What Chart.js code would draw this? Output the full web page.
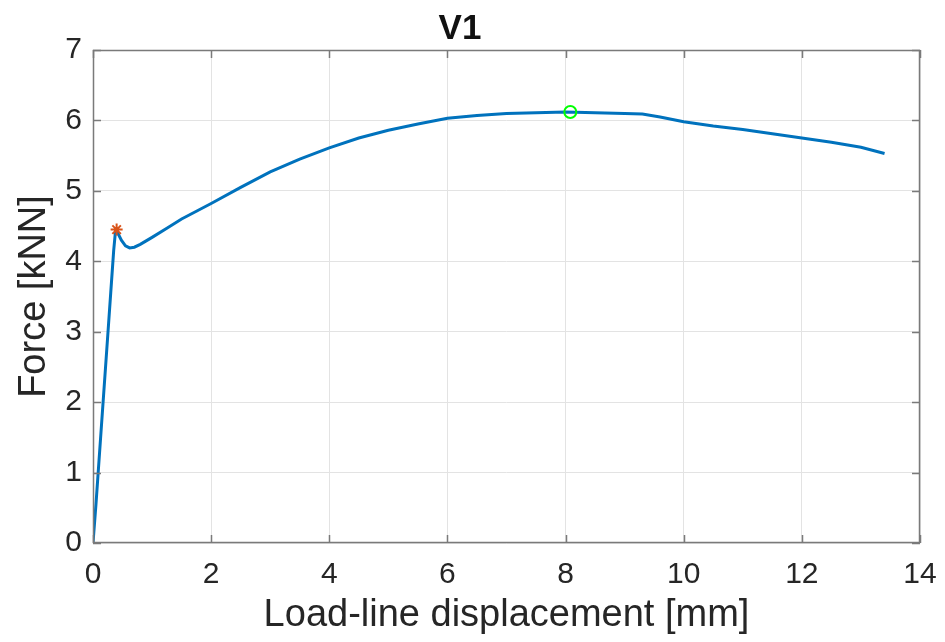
<!DOCTYPE html>
<html>
<head>
<meta charset="utf-8">
<script src="https://cdn.jsdelivr.net/npm/chart.js@4"></script>
<style>
  html, body { margin: 0; padding: 0; background: #fff; }
  #wrap { width: 945px; height: 642px; }
</style>
</head>
<body>
<div id="wrap"><canvas id="forceChart" width="945" height="642"></canvas></div>
<script>
// Load-line displacement [mm] and force [kN]
const displacement = [0, 0.05, 0.1, 0.15, 0.2, 0.25, 0.3, 0.35, 0.38, 0.42, 0.48, 0.55, 0.62, 0.7, 0.8, 0.9, 1.0,
  1.25, 1.5, 1.75, 2.0, 2.5, 3.0, 3.5, 4.0, 4.5, 5.0, 5.5, 6.0, 6.5, 7.0, 7.5, 8.0, 8.5, 9.0, 9.3,
  9.6, 10.0, 10.5, 11.0, 11.5, 12.0, 12.5, 13.0, 13.4];
const force = [0, 0.55, 1.15, 1.75, 2.35, 2.95, 3.55, 4.15, 4.42, 4.4, 4.3, 4.22, 4.19, 4.2, 4.24, 4.29, 4.34,
  4.47, 4.6, 4.71, 4.82, 5.05, 5.27, 5.45, 5.61, 5.75, 5.86, 5.95, 6.03, 6.07, 6.1, 6.11, 6.12, 6.11, 6.1, 6.09,
  6.05, 5.98, 5.92, 5.87, 5.81, 5.75, 5.69, 5.62, 5.53];

// marked points
const yieldPoint = [{ x: 0.4, y: 4.45 }];
const maxPoint = [{ x: 8.08, y: 6.12 }];

const xTicks = [0, 2, 4, 6, 8, 10, 12, 14];
const yTicks = [0, 1, 2, 3, 4, 5, 6, 7];

const curve = displacement.map((d, i) => ({ x: d, y: force[i] }));

// MATLAB-style box with inward ticks
const boxPlugin = {
  id: 'box',
  afterDraw(chart) {
    const { ctx, chartArea: a, scales } = chart;
    ctx.save();
    ctx.strokeStyle = '#7a7a7a';
    ctx.lineWidth = 1.5;
    ctx.strokeRect(a.left + 0.5, a.top + 0.5, a.right - a.left - 1, a.bottom - a.top - 1);
    ctx.beginPath();
    xTicks.forEach(t => {
      const px = Math.round(scales.x.getPixelForValue(t)) + 0.5;
      ctx.moveTo(px, a.bottom); ctx.lineTo(px, a.bottom - 8);
      ctx.moveTo(px, a.top); ctx.lineTo(px, a.top + 8);
    });
    yTicks.forEach(t => {
      const py = Math.round(scales.y.getPixelForValue(t)) + 0.5;
      ctx.moveTo(a.left, py); ctx.lineTo(a.left + 8, py);
      ctx.moveTo(a.right, py); ctx.lineTo(a.right - 8, py);
    });
    ctx.stroke();
    ctx.restore();
  }
};

new Chart(document.getElementById('forceChart'), {
  type: 'scatter',
  data: {
    datasets: [
      {
        data: curve,
        showLine: true,
        borderColor: '#0072BD',
        borderWidth: 3,
        pointRadius: 0,
        tension: 0,
        order: 3
      },
      {
        data: yieldPoint,
        pointStyle: 'star',
        pointRadius: 6,
        borderColor: '#D95319',
        backgroundColor: '#D95319',
        borderWidth: 2,
        order: 1
      },
      {
        data: maxPoint,
        pointStyle: 'circle',
        pointRadius: 6,
        borderColor: '#00FF00',
        backgroundColor: 'rgba(0,0,0,0)',
        borderWidth: 2,
        order: 2
      }
    ]
  },
  options: {
    responsive: false,
    animation: false,
    layout: { padding: { left: 0, right: 25, top: 0, bottom: 0 } },
    plugins: {
      legend: { display: false },
      tooltip: { enabled: false },
      title: {
        display: true,
        text: 'V1',
        color: '#111',
        font: { family: 'Liberation Sans', size: 35, weight: 'bold' },
        padding: { top: 8, bottom: 0 }
      }
    },
    scales: {
      x: {
        type: 'linear',
        min: 0,
        max: 14,
        afterBuildTicks: s => { s.ticks = xTicks.map(v => ({ value: v })); },
        afterFit: s => { s.height = 99; s.paddingLeft = 0; s.paddingRight = 0; },
        grid: { color: '#e3e3e3', drawTicks: false },
        border: { display: false },
        ticks: {
          color: '#262626',
          padding: 14,
          font: { family: 'Liberation Sans', size: 30 }
        },
        title: {
          display: true,
          text: 'Load-line displacement [mm]',
          color: '#262626',
          font: { family: 'Liberation Sans', size: 38 },
          padding: { top: 0, bottom: 4 }
        }
      },
      y: {
        type: 'linear',
        min: 0,
        max: 7,
        afterBuildTicks: s => { s.ticks = yTicks.map(v => ({ value: v })); },
        afterFit: s => { s.width = 93; s.paddingTop = 0; s.paddingBottom = 0; },
        grid: { color: '#e3e3e3', drawTicks: false },
        border: { display: false },
        ticks: {
          color: '#262626',
          padding: 11,
          font: { family: 'Liberation Sans', size: 30 }
        },
        title: {
          display: true,
          text: 'Force [kNN]',
          color: '#262626',
          font: { family: 'Liberation Sans', size: 38 },
          padding: { top: 12, bottom: 0 }
        }
      }
    }
  },
  plugins: [boxPlugin]
});
</script>
</body>
</html>
